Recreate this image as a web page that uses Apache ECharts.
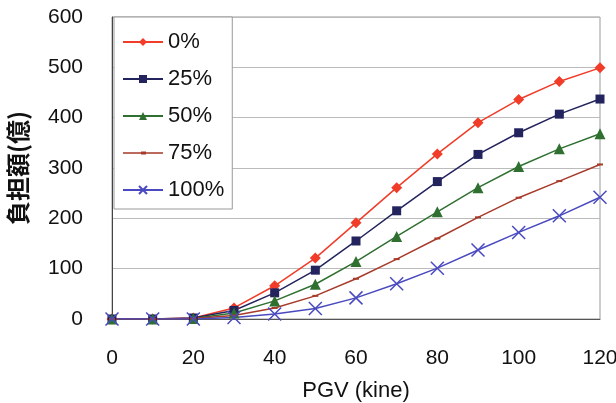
<!DOCTYPE html>
<html><head><meta charset="utf-8">
<script src="https://cdn.jsdelivr.net/npm/echarts@6/dist/echarts.min.js"></script>
<style>html,body{margin:0;padding:0;background:#fff}#c{width:616px;height:403px}</style>
</head><body><div id="c"></div>
<script>
const pgv = [0,10,20,30,40,50,60,70,80,90,100,110,120];
const s0 = [0,0,2,22,66,121,191,261,328,390,436,472,499];
const s25 = [0,0,2,17,52,97,155,215,273,327,370,407,437];
const s50 = [0,0,1,12,36,69,114,164,213,261,303,338,368];
const s75 = [0,0,1,7,22,46,80,119,160,202,241,274,307];
const s100 = [0,0,0,3,10,21,42,70,101,137,172,205,242];
const names = ['0%','25%','50%','75%','100%'];
const yTicks = [0,100,200,300,400,500,600];
const xTicks = [0,20,40,60,80,100,120];

const pairs = a => pgv.map((x,i)=>[x,a[i]]);
const font = '"Liberation Sans", Arial, sans-serif';
const chart = echarts.init(document.getElementById('c'));
const mk = (name, data, color, symbol, size, extra) => Object.assign({
  name, type:'line', data: pairs(data), symbol, symbolSize:size,
  lineStyle:{color, width:1.5}, itemStyle:{color}, color
}, extra||{});
chart.setOption({
  animation:false,
  grid:{left:112,right:16,top:17,bottom:84,show:true,borderColor:'#999',borderWidth:1,
    containLabel:false, outerBoundsMode:'none'},
  legend:{
    orient:'vertical', left:114, top:17, padding:[14,8,8,8],
    backgroundColor:'#fff', borderColor:'#999', borderWidth:1,
    itemWidth:40, itemHeight:10, itemGap:15,
    textStyle:{fontSize:22, fontFamily:font, color:'#111'},
    data:[names[0], names[1], names[2],
      {name:names[3], icon:'path://M0,0L0.01,0ZM0,4.3L40,4.3L40,5.7L0,5.7ZM18,3.6L23,3.6L23,6.4L18,6.4ZM40,10L39.99,10Z'},
      names[4]]
  },
  xAxis:{type:'value', min:0, max:120, interval:20,
    name:'PGV (kine)', nameLocation:'middle', nameGap:61,
    nameTextStyle:{fontSize:22, fontFamily:font, color:'#111'},
    axisLine:{show:true, onZero:false, lineStyle:{color:'#555'}},
    axisTick:{show:false}, splitLine:{show:false},
    axisLabel:{fontSize:21, fontFamily:font, color:'#111', margin:29,
      formatter:v=>xTicks.includes(v)?String(v):''}
  },
  yAxis:{type:'value', min:0, max:600, interval:100,
    name:'負担額(億)', nameLocation:'middle', nameRotate:90, nameGap:82,
    nameTextStyle:{fontSize:24, fontWeight:'bold', fontFamily:'"Noto Sans CJK JP", sans-serif', color:'#111'},
    axisLine:{show:true, lineStyle:{color:'#444'}},
    axisTick:{show:false},
    splitLine:{lineStyle:{color:'#bbb'}},
    axisLabel:{fontSize:21, fontFamily:font, color:'#111', margin:29,
      formatter:v=>yTicks.includes(v)?String(v):''}
  },
  series:[
    mk(names[0], s0, '#f03c28', 'diamond', 11),
    mk(names[1], s25, '#23235e', 'rect', 9),
    mk(names[2], s50, '#2f7030', 'triangle', 11),
    mk(names[3], s75, '#a83a2a', 'rect', [6,2]),
    mk(names[4], s100, '#4a4ac0', 'path://M0,0L10,10M10,0L0,10', 13,
      {itemStyle:{color:'none', borderColor:'#4a4ac0', borderWidth:1.5}})
  ]
});
</script></body></html>
